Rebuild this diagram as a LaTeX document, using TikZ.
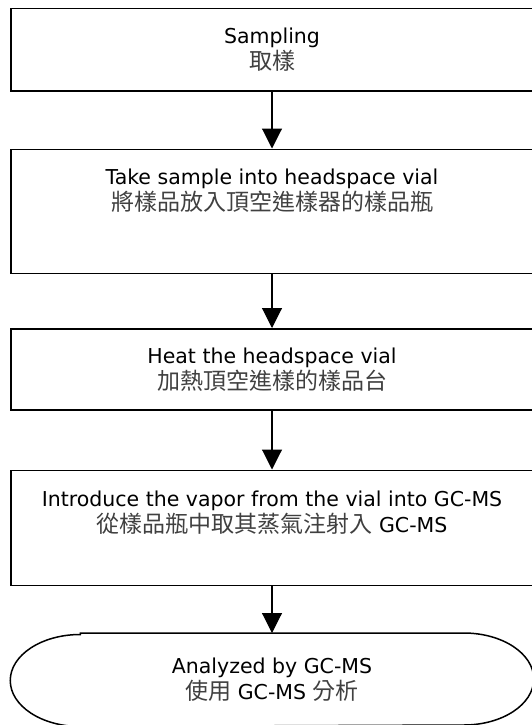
\documentclass[tikz,border=0pt]{standalone}
\usepackage{fontspec}
\setmainfont{DejaVu Sans}
\newfontfamily\cjk{Noto Sans CJK TC}
\newcommand\zh[1]{{\cjk\fontsize{23}{26}\selectfont\color{black!75}#1}}
\usetikzlibrary{arrows.meta,positioning}

\begin{document}
\begin{tikzpicture}[x=1pt,y=1pt,node distance=54pt,
  stepbox/.style={draw, line width=1.5pt, minimum width=522pt, inner sep=0pt,
    align=center, font=\fontsize{20.5}{26}\selectfont},
  endbox/.style={stepbox, draw=none},
  flow/.style={-{Triangle[length=20pt,width=20pt]}, line width=1.1pt}]
  \useasboundingbox (0,0) rectangle (532,-725);
  \node[stepbox,minimum height=82pt,anchor=north] (sample) at (272,-8)
    {Sampling\\\zh{取樣}};
  \node[stepbox,minimum height=124pt] (vial) [below=57pt of sample]
    {Take sample into headspace vial\\\zh{將樣品放入頂空進樣器的樣品瓶}\\[18pt]\mbox{}};
  \node[stepbox,minimum height=81pt] (heat) [below=of vial]
    {Heat the headspace vial\\\zh{加熱頂空進樣的樣品台}};
  \node[stepbox,minimum height=115pt] (inject) [below=59pt of heat]
    {Introduce the vapor from the vial into GC-MS\\\zh{從樣品瓶中取其蒸氣注射入} GC-MS\\[6pt]\mbox{}};
  \node[endbox,minimum height=92pt] (analyze) [below=47pt of inject]
    {Analyzed by GC-MS\\\zh{使用} GC-MS \zh{分析}};
  % terminal outline with elliptic ends
  \draw[line width=1.5pt] ([xshift=70pt]analyze.north west) -- ([xshift=-70pt]analyze.north east)
    arc[start angle=90,end angle=-90,x radius=70pt,y radius=46pt]
    -- ([xshift=70pt]analyze.south west)
    arc[start angle=270,end angle=90,x radius=70pt,y radius=46pt] -- cycle;
  \draw[flow] (sample) -- (vial);
  \draw[flow] (vial) -- (heat);
  \draw[flow] (heat) -- (inject);
  \draw[flow] (inject) -- (analyze);
\end{tikzpicture}
\end{document}
